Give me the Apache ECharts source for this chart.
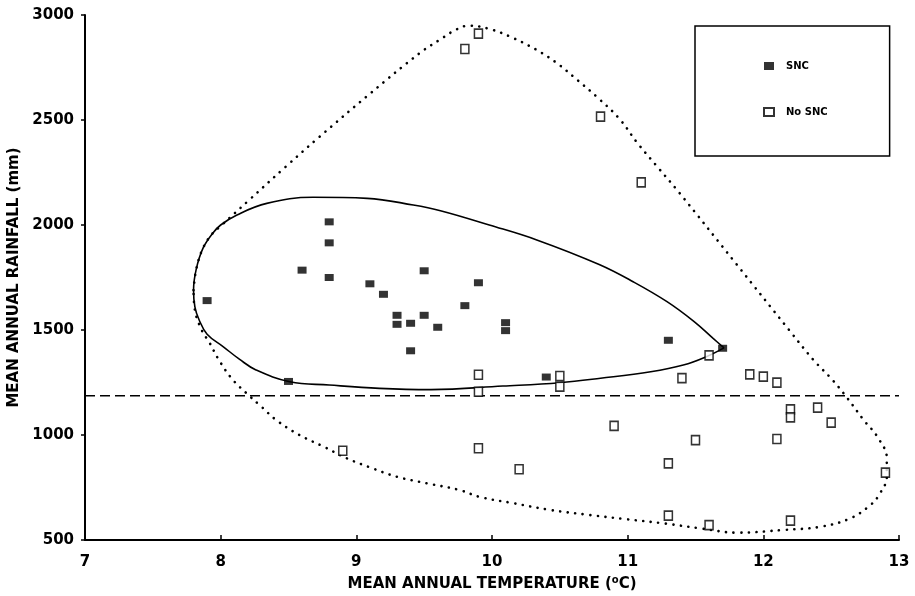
<!DOCTYPE html>
<html>
<head>
<meta charset="utf-8">
<script src="https://cdn.jsdelivr.net/npm/echarts@6/dist/echarts.min.js"></script>
<style>
  html, body { margin: 0; padding: 0; background: #fff; }
  #chart { width: 915px; height: 596px; }
</style>
</head>
<body>
<div id="chart"></div>
<script>
'use strict';
// values: mean annual temperature (C) vs rainfall (mm)
const sncTemp = [7.9, 8.5, 8.6, 8.8, 8.8, 8.8, 9.1, 9.2, 9.3, 9.3, 9.4, 9.4, 9.5, 9.5, 9.6, 9.8, 9.9, 10.1, 10.1, 10.4, 11.3, 11.7];
const sncRain = [1640, 1255, 1785, 2015, 1915, 1750, 1720, 1670, 1570, 1527, 1532, 1401, 1782, 1570, 1513, 1616, 1725, 1535, 1497, 1276, 1451, 1413];

const noSncTemp = [9.8, 9.9, 10.8, 11.1, 9.9, 9.9, 10.5, 10.5, 11.4, 11.6, 11.9, 12.0, 12.1, 12.2, 12.2, 12.4, 12.5, 12.1, 11.5, 10.9, 11.3, 12.9, 8.9, 9.9, 10.2, 11.3, 11.6, 12.2];
const noSncRain = [2838, 2911, 2516, 2203, 1287, 1206, 1281, 1230, 1271, 1379, 1289, 1278, 1249, 1122, 1084, 1130, 1059, 981, 976, 1043, 865, 821, 925, 937, 837, 616, 571, 592];

// solid envelope around the SNC sites (starts and ends at the tip)
const sncCurveTemp = [11.71, 11.63, 11.49, 11.29, 11.04, 10.79, 10.33, 9.98, 9.62, 9.42, 9.08, 8.68, 8.34, 8.12, 8.00, 7.94, 7.87, 7.82, 7.80, 7.81, 7.84, 7.90, 8.02, 8.14, 8.26, 8.51, 8.80, 9.17, 9.55, 10.08, 10.50, 10.80, 11.17, 11.41, 11.58, 11.71];
const sncCurveRain = [1415, 1460, 1540, 1635, 1730, 1812, 1929, 2000, 2068, 2095, 2127, 2132, 2103, 2048, 2000, 1960, 1890, 1790, 1690, 1610, 1550, 1480, 1420, 1360, 1310, 1254, 1238, 1222, 1216, 1233, 1249, 1270, 1301, 1333, 1373, 1415];

// dotted envelope around all sites
const allCurveTemp = [7.80, 7.82, 7.87, 7.94, 8.00, 8.21, 8.48, 8.73, 9.10, 9.47, 9.62, 9.74, 9.83, 9.99, 10.15, 10.32, 10.47, 10.63, 10.78, 10.94, 11.07, 11.21, 11.38, 11.80, 12.19, 12.37, 12.51, 12.62, 12.74, 12.84, 12.91, 12.91, 12.86, 12.79, 12.64, 12.42, 12.15, 11.81, 11.54, 11.28, 10.99, 10.72, 10.43, 10.16, 9.91, 9.76, 9.52, 9.30, 9.10, 8.93, 8.76, 8.58, 8.41, 8.30, 8.19, 8.08, 7.98, 7.92, 7.86, 7.81, 7.80];
const allCurveRain = [1690, 1790, 1890, 1960, 1995, 2119, 2278, 2421, 2625, 2820, 2884, 2932, 2949, 2932, 2892, 2837, 2775, 2690, 2606, 2505, 2392, 2284, 2154, 1815, 1500, 1357, 1262, 1175, 1071, 992, 889, 801, 722, 667, 603, 563, 548, 535, 555, 578, 599, 619, 643, 675, 705, 738, 770, 801, 846, 889, 944, 1000, 1071, 1135, 1199, 1270, 1365, 1437, 1500, 1595, 1690];

const rainThreshold = 1187;
const xRange = [7, 13];

const FONT = 'DejaVu Sans';

function zip(xs, ys) {
  let out = [];
  for (let i = 0; i < xs.length; i++) {
    out.push([xs[i], ys[i]]);
  }
  return out;
}

var myChart = echarts.init(document.getElementById('chart'));

var labelStyle = {color: '#000', fontFamily: FONT, fontWeight: 'bold', fontSize: 15};

var option = {
  animation: false,
  backgroundColor: '#fff',
  grid: {left: 85, right: 16, top: 15, bottom: 56, outerBoundsMode: 'none'},
  legend: {
    data: [{name: 'SNC', icon: 'rect'}, {name: 'No SNC', icon: 'rect'}],
    orient: 'vertical',
    left: 695,
    top: 26,
    padding: [35, 62, 39, 68],
    itemWidth: 10,
    itemHeight: 8,
    itemGap: 36,
    borderColor: '#000',
    borderWidth: 1.5,
    selectedMode: false,
    textStyle: {color: '#000', fontFamily: FONT, fontWeight: 'bold', fontSize: 10, padding: [0, 0, 0, 7]}
  },
  xAxis: {
    type: 'value',
    min: xRange[0],
    max: xRange[1],
    interval: 1,
    name: 'MEAN ANNUAL TEMPERATURE ({sup|o}C)',
    nameLocation: 'middle',
    nameGap: 35,
    nameTextStyle: {
      color: '#000', fontFamily: FONT, fontWeight: 'bold', fontSize: 15,
      rich: {sup: {color: '#000', fontFamily: FONT, fontWeight: 'bold', fontSize: 10, padding: [0, 0, 9, 0]}}
    },
    axisLine: {lineStyle: {color: '#000', width: 2}},
    axisTick: {inside: true, length: 5, lineStyle: {color: '#000', width: 1.5}},
    axisLabel: Object.assign({margin: 15}, labelStyle),
    splitLine: {show: false}
  },
  yAxis: {
    type: 'value',
    min: 500,
    max: 3000,
    interval: 500,
    name: 'MEAN ANNUAL RAINFALL (mm)',
    nameLocation: 'middle',
    nameGap: 57,
    nameRotate: 90,
    nameTextStyle: {color: '#000', fontFamily: FONT, fontWeight: 'bold', fontSize: 15},
    axisLine: {show: true, lineStyle: {color: '#000', width: 2}},
    axisTick: {show: true, length: 4, lineStyle: {color: '#000', width: 1.5}},
    axisLabel: Object.assign({margin: 11, formatter: function(v) { return String(v); }}, labelStyle),
    splitLine: {show: false}
  },
  series: [
    {
      name: 'all sites',
      type: 'line',
      data: zip(allCurveTemp, allCurveRain),
      smooth: 0.4,
      symbol: 'none',
      silent: true,
      z: 1,
      lineStyle: {color: '#000', width: 2.6, type: [0.1, 7.5], cap: 'round'}
    },
    {
      name: 'snc envelope',
      type: 'line',
      data: zip(sncCurveTemp, sncCurveRain),
      smooth: 0.4,
      symbol: 'none',
      silent: true,
      z: 2,
      lineStyle: {color: '#000', width: 1.6}
    },
    {
      name: 'threshold',
      type: 'line',
      data: [[xRange[0], rainThreshold], [xRange[1], rainThreshold]],
      symbol: 'none',
      silent: true,
      z: 2,
      lineStyle: {color: '#000', width: 1.6, type: [10, 5]}
    },
    {
      name: 'SNC',
      type: 'scatter',
      data: zip(sncTemp, sncRain),
      symbol: 'rect',
      symbolSize: [9, 7],
      z: 5,
      itemStyle: {color: '#000'}
    },
    {
      name: 'No SNC',
      type: 'scatter',
      data: zip(noSncTemp, noSncRain),
      symbol: 'rect',
      symbolSize: [8, 9],
      z: 5,
      itemStyle: {color: '#fff', borderColor: '#000', borderWidth: 1.6}
    }
  ]
};

myChart.setOption(option);
</script>
</body>
</html>
